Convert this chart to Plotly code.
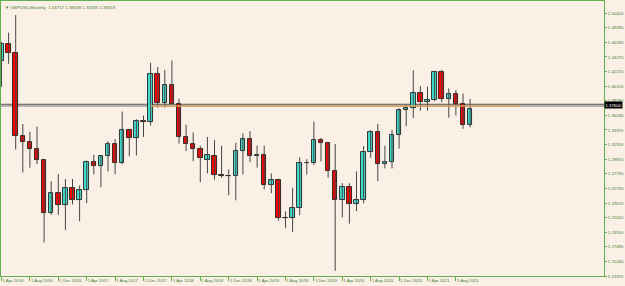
import plotly.graph_objects as go

# ---------------- data (GBPUSD, Monthly) ----------------
months = ["2016-04","2016-05","2016-06","2016-07","2016-08","2016-09","2016-10","2016-11","2016-12",
          "2017-01","2017-02","2017-03","2017-04","2017-05","2017-06","2017-07","2017-08","2017-09","2017-10","2017-11","2017-12",
          "2018-01","2018-02","2018-03","2018-04","2018-05","2018-06","2018-07","2018-08","2018-09","2018-10","2018-11","2018-12",
          "2019-01","2019-02","2019-03","2019-04","2019-05","2019-06","2019-07","2019-08","2019-09","2019-10","2019-11","2019-12",
          "2020-01","2020-02","2020-03","2020-04","2020-05","2020-06","2020-07","2020-08","2020-09","2020-10","2020-11","2020-12",
          "2021-01","2021-02","2021-03","2021-04","2021-05","2021-06","2021-07","2021-08","2021-09","2021-10"]
opens = [1.4370,1.4615,1.4482,1.3311,1.3229,1.3127,1.2975,1.2232,1.2505,
         1.2340,1.2579,1.2411,1.2551,1.2947,1.2888,1.3025,1.3204,1.2928,1.3398,1.3281,1.3527,
         1.3509,1.4184,1.3775,1.4025,1.3770,1.3296,1.3205,1.3123,1.2975,1.3033,1.2767,1.2752,
         1.2755,1.3103,1.3263,1.3031,1.3040,1.2625,1.2697,1.2158,1.2159,1.2290,1.2938,1.2932,
         1.3259,1.3207,1.2823,1.2415,1.2592,1.2347,1.2404,1.3090,1.3372,1.2915,1.2941,1.3325,
         1.3673,1.3706,1.3924,1.3785,1.3818,1.4211,1.3829,1.3905,1.3757,1.34717]
highs = [1.4639,1.4770,1.5018,1.3481,1.3372,1.3445,1.2990,1.2675,1.2775,
         1.2706,1.2706,1.2615,1.2965,1.3047,1.3030,1.3238,1.3268,1.3657,1.3400,1.3549,1.3600,
         1.4345,1.4285,1.4245,1.4377,1.3837,1.3472,1.3363,1.3175,1.3298,1.3257,1.3176,1.2840,
         1.3216,1.3349,1.3381,1.3177,1.3176,1.2784,1.2709,1.2249,1.2582,1.3012,1.2985,1.3514,
         1.3285,1.3212,1.3200,1.2648,1.2647,1.2813,1.3170,1.3395,1.3482,1.3177,1.3398,1.3704,
         1.3759,1.4241,1.4017,1.4009,1.4233,1.4249,1.3984,1.3959,1.3913,1.38348]
lows = [1.4006,1.4332,1.3122,1.2798,1.2865,1.2915,1.1810,1.2200,1.2200,
        1.1986,1.2346,1.2109,1.2365,1.2770,1.2589,1.2812,1.2774,1.2915,1.3027,1.3038,1.3300,
        1.3459,1.3712,1.3711,1.3757,1.3205,1.3101,1.2957,1.2662,1.2785,1.2695,1.2723,1.2477,
        1.2405,1.2772,1.2945,1.2866,1.2559,1.2505,1.2119,1.2016,1.1959,1.2195,1.2769,1.2904,
        1.2953,1.2725,1.1409,1.2165,1.2076,1.2253,1.2363,1.3005,1.2676,1.2855,1.2855,1.3134,
        1.3451,1.3566,1.3669,1.3669,1.3803,1.3787,1.3572,1.3601,1.3412,1.34335]
closes = [1.4615,1.4482,1.3311,1.3229,1.3127,1.2975,1.2232,1.2505,1.2340,
          1.2579,1.2411,1.2551,1.2947,1.2888,1.3025,1.3204,1.2928,1.3398,1.3281,1.3527,1.3509,
          1.4184,1.3775,1.4025,1.3770,1.3296,1.3205,1.3123,1.2998,1.3045,1.2767,1.2752,1.2755,
          1.3103,1.3263,1.3031,1.3040,1.2625,1.2697,1.2158,1.2159,1.2290,1.2938,1.2932,1.3259,
          1.3207,1.2823,1.2415,1.2592,1.2347,1.2404,1.3090,1.3372,1.2915,1.2941,1.3325,1.3673,
          1.3706,1.3924,1.3785,1.3818,1.4211,1.3829,1.3905,1.3757,1.3470,1.36919]

# price-scale labels (right axis)
y_ticks = [1.13370,1.15430,1.17490,1.19550,1.21610,1.23670,1.25730,1.27790,1.29850,1.31910,
           1.33970,1.36030,1.38090,1.40150,1.42210,1.44270,1.46330,1.48390,1.50450]

# horizontal levels
level_upper = 1.3760
level_lower = 1.3736
level_seg_start = 21   # month index where orange segment begins
level_seg_end = 73     # month index where orange segment ends
level_label = "1.37600"

symbol = "GBPUSD,Monthly"

# ---------------- styles ----------------
BG = "#FAF0E6"
GREEN = "#5FAF4F"
TXT = "#3F7F33"
BULL = "#40E0D0"
BEAR = "#FF0000"
OUTLINE = "#1E1E1E"
WICK = "#454545"
FONT = "Liberation Sans"

MON = ["Jan","Feb","Mar","Apr","May","Jun","Jul","Aug","Sep","Oct","Nov","Dec"]

idx = list(range(len(months)))

fig = go.Figure()

# horizontal lines (under the candles' level trace)
fig.add_hline(y=level_upper, line=dict(color="#555555", width=1), layer="below")
fig.add_hline(y=level_lower, line=dict(color="#707070", width=1), layer="below")

# wicks
wx, wy = [], []
for i in idx:
    wx += [i, i, None]
    wy += [lows[i], highs[i], None]
fig.add_trace(go.Scatter(x=wx, y=wy, mode="lines", line=dict(color=WICK, width=1),
                         hoverinfo="skip", showlegend=False))

fig.add_trace(go.Scatter(x=[level_seg_start, level_seg_end], y=[level_lower, level_lower], mode="lines",
                         line=dict(color="#E0A460", width=1.6), hoverinfo="skip", showlegend=False))

# bodies
bull = [i for i in idx if closes[i] >= opens[i]]
bear = [i for i in idx if closes[i] < opens[i]]
fig.add_trace(go.Bar(x=bull, y=[closes[i] - opens[i] for i in bull], base=[opens[i] for i in bull],
                     width=0.64, marker=dict(color=BULL, line=dict(color=OUTLINE, width=0.9)),
                     showlegend=False))
fig.add_trace(go.Bar(x=bear, y=[closes[i] - opens[i] for i in bear], base=[opens[i] for i in bear],
                     width=0.64, marker=dict(color=BEAR, line=dict(color=OUTLINE, width=0.9)),
                     showlegend=False))

tickvals = idx[::4]
ticktext = []
for i in tickvals:
    yy, mm = months[i].split("-")
    ticktext.append("1 %s %s" % (MON[int(mm) - 1], yy))

fig.update_layout(
    width=625, height=286,
    margin=dict(l=1, r=21, t=1, b=10),
    paper_bgcolor=BG, plot_bgcolor=BG,
    barmode="overlay", bargap=0,
    font=dict(family=FONT, size=5, color=TXT),
    xaxis=dict(range=[-0.07, 84.86], showgrid=False, zeroline=False, automargin=False,
               showline=True, linecolor=GREEN, linewidth=1, mirror=True,
               tickvals=tickvals, ticktext=ticktext, ticks="outside", ticklen=4, tickangle=0,
               tickcolor=GREEN, tickwidth=1, ticklabelposition="outside right",
               tickfont=dict(size=4.3, color=TXT, family=FONT)),
    yaxis=dict(range=[1.1337, 1.5217], side="right", showgrid=False, zeroline=False, automargin=False,
               showline=True, linecolor=GREEN, linewidth=1, mirror=True,
               tickvals=y_ticks, ticktext=["%.5f" % v for v in y_ticks],
               ticks="outside", ticklen=2, tickcolor=GREEN,
               tickfont=dict(size=4.3, color=TXT, family=FONT)),
)

header = "\u25BC %s  %.5f %.5f %.5f %.5f" % (symbol, opens[-1], highs[-1], lows[-1], closes[-1])
fig.add_annotation(text=header, xref="paper", yref="paper", x=0, y=1, xanchor="left", yanchor="top",
                   xshift=2, yshift=-2, showarrow=False, font=dict(size=4.4, color=TXT, family=FONT))
fig.add_annotation(text=level_label, xref="paper", yref="y", x=1, y=level_upper, xanchor="left",
                   yanchor="top", yshift=3, showarrow=False, bgcolor="#000000", borderpad=0.5,
                   font=dict(size=4.3, color="#FFFFFF", family=FONT))

fig.write_html("out.html")
